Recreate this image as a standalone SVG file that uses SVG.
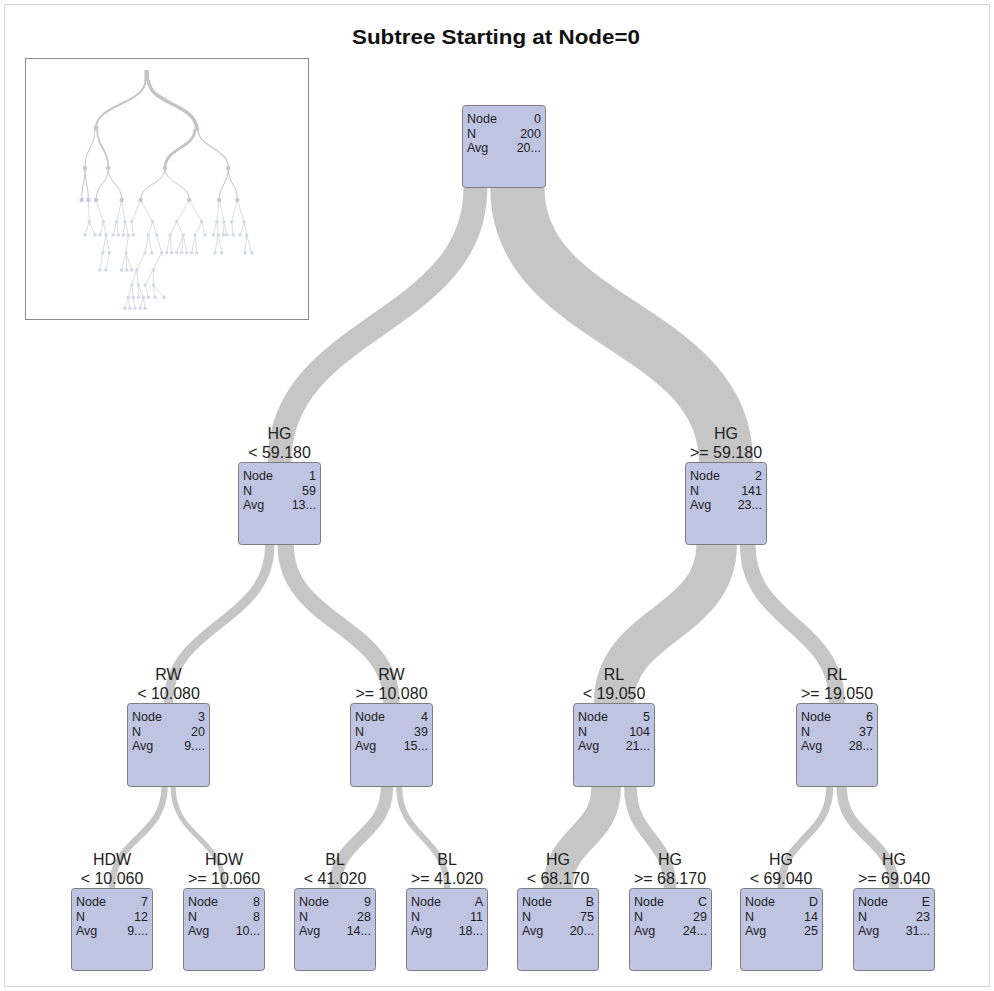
<svg xmlns="http://www.w3.org/2000/svg" width="994" height="991" viewBox="0 0 994 991">
<style>
.bg{fill:#ffffff}
.frame{fill:none;stroke:#d4d4d4;stroke-width:1}
.title{font-family:"Liberation Sans",Arial,sans-serif;font-weight:bold;font-size:20px;fill:#111;text-anchor:middle}
.box{fill:#bec4e2;stroke:#7d7d7d;stroke-width:1}
.t{font-family:"Liberation Sans",Arial,sans-serif;font-size:12.5px;fill:#1e1e1e}
.r{text-anchor:end}
.lbl{font-family:"Liberation Sans",Arial,sans-serif;font-size:16px;fill:#222;text-anchor:middle}
.band{fill:none;stroke:#c6c6c6;stroke-linecap:butt}
.inset{fill:#fff;stroke:#8a8a8a;stroke-width:1}
.mu{fill:none;stroke:#c4c4c4}
.ml{fill:none;stroke:#dcdde3;stroke-width:1}
.md{fill:#c3c8da}
.mf{fill:#d5d9e6}
</style>
<rect class="bg" x="0" y="0" width="994" height="991"/>
<rect class="frame" x="4.5" y="4.5" width="985" height="982"/>
<text class="title" x="496" y="44" textLength="288" lengthAdjust="spacingAndGlyphs">Subtree Starting at Node=0</text>

<g id="inset">
<rect class="inset" x="25.5" y="58.5" width="283" height="261"/>
<rect x="144.5" y="70" width="4.5" height="11" fill="#c4c4c4"/>
<path class="mu" stroke-width="2" d="M145.5,80 C145.5,104 96,104 96,128"/>
<path class="mu" stroke-width="3.5" d="M148.5,80 C148.5,104 196.7,104 196.7,129"/>
<path class="mu" stroke-width="1" d="M95,128 C95,148 85,148 85,168"/>
<path class="mu" stroke-width="1.6" d="M97,128 C97,148 108.3,148 108.3,168"/>
<path class="mu" stroke-width="2.8" d="M195,129 C195,148 165,148 165,168"/>
<path class="mu" stroke-width="1.2" d="M198,129 C198,148 228.3,148 228.3,168"/>
<path class="mu" stroke-width="1" d="M85,168 C85,184 81.7,184 81.7,200 M85,168 C85,184 88.3,184 88.3,200 M108.3,168 C108.3,184 96,184 96,200 M108.3,168 C108.3,184 121.7,184 121.7,200 M165,168 C165,184 140.7,184 140.7,200 M165,168 C165,184 189.3,184 189.3,200 M228.3,168 C228.3,184 219.3,184 219.3,200 M228.3,168 C228.3,184 237.3,184 237.3,200"/>
<path class="ml" d="M88.3,200 L89.3,221.7 M96,200 L103.3,221.7 M121.7,200 L116.7,221.7 M121.7,200 L125,221.7 M140.7,200 L131.7,221.7 M140.7,200 L152.7,221.7 M189.3,200 L176.7,221.7 M189.3,200 L201.7,221.7 M219.3,200 L216.7,221.7 M219.3,200 L224,221.7 M237.3,200 L231.7,221.7 M237.3,200 L244,221.7
M89.3,221.7 L85,235 M89.3,221.7 L95,235 M103.3,221.7 L100,235 M103.3,221.7 L106,235 M116.7,221.7 L113.3,235 M116.7,221.7 L118.3,235 M125,221.7 L123.3,235 M125,221.7 L128.3,235 M131.7,221.7 L133.3,235 M152.7,221.7 L148.3,235 M152.7,221.7 L156.7,235 M176.7,221.7 L170,235 M176.7,221.7 L183.3,235 M201.7,221.7 L195,235 M201.7,221.7 L205,235 M216.7,221.7 L213.3,235 M216.7,221.7 L218.3,235 M224,221.7 L223.3,235 M224,221.7 L226.7,235 M231.7,221.7 L233.3,235 M244,221.7 L240,235 M244,221.7 L246.7,235
M106,235 L102.7,252.7 M106,235 L109.3,252.7 M128.3,235 L126,252.7 M148.3,235 L145,252.7 M148.3,235 L151.7,252.7 M156.7,235 L161.7,252.7 M170,235 L166.7,252.7 M170,235 L171.7,252.7 M183.3,235 L176.7,252.7 M183.3,235 L181.7,252.7 M183.3,235 L186.7,252.7 M195,235 L191.7,252.7 M195,235 L196.7,252.7 M218.3,235 L215,252.7 M218.3,235 L221.7,252.7 M246.7,235 L245,252.7 M246.7,235 L251.7,252.7
M102.7,252.7 L100,270 M109.3,252.7 L106,270 M126,252.7 L121.7,270 M126,252.7 L126.7,270 M126,252.7 L131.7,270 M145,252.7 L136.7,270 M161.7,252.7 L153.3,270
M136.7,270 L131.7,285 M136.7,270 L138.3,285 M153.3,270 L145,285 M153.3,270 L153.3,285
M131.7,285 L128.3,297.3 M131.7,285 L133.3,297.3 M138.3,285 L138.3,297.3 M138.3,285 L143.3,297.3 M145,285 L148.3,297.3 M153.3,285 L155,297.3 M153.3,285 L164,297.3
M128.3,297.3 L125,308.3 M128.3,297.3 L130,308.3 M133.3,297.3 L135,308.3 M143.3,297.3 L140,308.3 M143.3,297.3 L145,308.3"/>
<g class="md">
<circle cx="96" cy="128" r="2.5"/><circle cx="196.7" cy="129" r="2.5"/>
<circle cx="85" cy="168" r="2.3"/><circle cx="108.3" cy="168" r="2.3"/><circle cx="165" cy="168" r="2.3"/><circle cx="228.3" cy="168" r="2.3"/>
<circle cx="81.7" cy="200" r="2.2"/><circle cx="88.3" cy="200" r="2.2"/><circle cx="96" cy="200" r="2.2"/><circle cx="121.7" cy="200" r="2.2"/><circle cx="140.7" cy="200" r="2.2"/><circle cx="189.3" cy="200" r="2.2"/><circle cx="219.3" cy="200" r="2.2"/><circle cx="237.3" cy="200" r="2.2"/>
</g>
<g class="mf">
<circle cx="89.3" cy="221.7" r="1.8"/><circle cx="103.3" cy="221.7" r="1.8"/><circle cx="116.7" cy="221.7" r="1.8"/><circle cx="125" cy="221.7" r="1.8"/><circle cx="131.7" cy="221.7" r="1.8"/><circle cx="152.7" cy="221.7" r="1.8"/><circle cx="176.7" cy="221.7" r="1.8"/><circle cx="201.7" cy="221.7" r="1.8"/><circle cx="216.7" cy="221.7" r="1.8"/><circle cx="224" cy="221.7" r="1.8"/><circle cx="231.7" cy="221.7" r="1.8"/><circle cx="244" cy="221.7" r="1.8"/>
<circle cx="85" cy="235" r="1.8"/><circle cx="95" cy="235" r="1.8"/><circle cx="100" cy="235" r="1.8"/><circle cx="106" cy="235" r="1.8"/><circle cx="113.3" cy="235" r="1.8"/><circle cx="118.3" cy="235" r="1.8"/><circle cx="123.3" cy="235" r="1.8"/><circle cx="128.3" cy="235" r="1.8"/><circle cx="133.3" cy="235" r="1.8"/><circle cx="148.3" cy="235" r="1.8"/><circle cx="156.7" cy="235" r="1.8"/><circle cx="170" cy="235" r="1.8"/><circle cx="183.3" cy="235" r="1.8"/><circle cx="195" cy="235" r="1.8"/><circle cx="205" cy="235" r="1.8"/><circle cx="213.3" cy="235" r="1.8"/><circle cx="218.3" cy="235" r="1.8"/><circle cx="223.3" cy="235" r="1.8"/><circle cx="226.7" cy="235" r="1.8"/><circle cx="233.3" cy="235" r="1.8"/><circle cx="240" cy="235" r="1.8"/><circle cx="246.7" cy="235" r="1.8"/>
<circle cx="102.7" cy="252.7" r="1.8"/><circle cx="109.3" cy="252.7" r="1.8"/><circle cx="126" cy="252.7" r="1.8"/><circle cx="145" cy="252.7" r="1.8"/><circle cx="151.7" cy="252.7" r="1.8"/><circle cx="161.7" cy="252.7" r="1.8"/><circle cx="166.7" cy="252.7" r="1.8"/><circle cx="171.7" cy="252.7" r="1.8"/><circle cx="176.7" cy="252.7" r="1.8"/><circle cx="181.7" cy="252.7" r="1.8"/><circle cx="186.7" cy="252.7" r="1.8"/><circle cx="191.7" cy="252.7" r="1.8"/><circle cx="196.7" cy="252.7" r="1.8"/><circle cx="215" cy="252.7" r="1.8"/><circle cx="221.7" cy="252.7" r="1.8"/><circle cx="245" cy="252.7" r="1.8"/><circle cx="251.7" cy="252.7" r="1.8"/>
<circle cx="100" cy="270" r="1.8"/><circle cx="106" cy="270" r="1.8"/><circle cx="121.7" cy="270" r="1.8"/><circle cx="126.7" cy="270" r="1.8"/><circle cx="131.7" cy="270" r="1.8"/><circle cx="136.7" cy="270" r="1.8"/><circle cx="153.3" cy="270" r="1.8"/>
<circle cx="131.7" cy="285" r="1.8"/><circle cx="138.3" cy="285" r="1.8"/><circle cx="145" cy="285" r="1.8"/><circle cx="153.3" cy="285" r="1.8"/>
<circle cx="128.3" cy="297.3" r="1.8"/><circle cx="133.3" cy="297.3" r="1.8"/><circle cx="138.3" cy="297.3" r="1.8"/><circle cx="143.3" cy="297.3" r="1.8"/><circle cx="148.3" cy="297.3" r="1.8"/><circle cx="155" cy="297.3" r="1.8"/><circle cx="164" cy="297.3" r="1.8"/>
<circle cx="125" cy="308.3" r="1.8"/><circle cx="130" cy="308.3" r="1.8"/><circle cx="135" cy="308.3" r="1.8"/><circle cx="140" cy="308.3" r="1.8"/><circle cx="145" cy="308.3" r="1.8"/>
</g>
</g>

<g id="connectors">
<path class="band" stroke-width="23.8" d="M475.4,188 C475.4,325 279.5,325 279.5,462"/>
<path class="band" stroke-width="54.2" d="M517.4,188 C517.4,325 726,325 726,462"/>
<path class="band" stroke-width="9.4" d="M269.8,545 C269.8,624 168.5,624 168.5,703"/>
<path class="band" stroke-width="16.4" d="M285.7,545 C285.7,624 391.5,624 391.5,703"/>
<path class="band" stroke-width="40.5" d="M716.65,545 C716.65,624 614,624 614,703"/>
<path class="band" stroke-width="15.7" d="M747.75,545 C747.75,624 837,624 837,703"/>
<path class="band" stroke-width="6.4" d="M164.5,787 C164.5,837.5 112,837.5 112,888"/>
<path class="band" stroke-width="5" d="M173.2,787 C173.2,837.5 224,837.5 224,888"/>
<path class="band" stroke-width="12.4" d="M386.95,787 C386.95,837.5 335,837.5 335,888"/>
<path class="band" stroke-width="6.1" d="M399.2,787 C399.2,837.5 447,837.5 447,888"/>
<path class="band" stroke-width="29.75" d="M606.2,787 C606.2,837.5 558,837.5 558,888"/>
<path class="band" stroke-width="12.7" d="M630.4,787 C630.4,837.5 670,837.5 670,888"/>
<path class="band" stroke-width="7.2" d="M829.75,787 C829.75,837.5 781,837.5 781,888"/>
<path class="band" stroke-width="10.5" d="M841.6,787 C841.6,837.5 894,837.5 894,888"/>
</g>

<g id="node0">
<rect class="box" x="462.5" y="105.5" width="83" height="82" rx="3"/>
<text class="t" x="467" y="123">Node</text><text class="t r" x="541" y="123">0</text>
<text class="t" x="467" y="137.5">N</text><text class="t r" x="541" y="137.5">200</text>
<text class="t" x="467" y="152">Avg</text><text class="t r" x="541" y="152">20...</text>
</g>

<g id="node1">
<text class="lbl" x="279.5" y="438.5">HG</text><text class="lbl" x="279.5" y="457.5">&lt; 59.180</text>
<rect class="box" x="238.5" y="462.5" width="82" height="82" rx="3"/>
<text class="t" x="243" y="480">Node</text><text class="t r" x="316" y="480">1</text>
<text class="t" x="243" y="494.5">N</text><text class="t r" x="316" y="494.5">59</text>
<text class="t" x="243" y="509">Avg</text><text class="t r" x="316" y="509">13...</text>
</g>

<g id="node2">
<text class="lbl" x="726" y="438.5">HG</text><text class="lbl" x="726" y="457.5">&gt;= 59.180</text>
<rect class="box" x="685.5" y="462.5" width="81" height="82" rx="3"/>
<text class="t" x="690" y="480">Node</text><text class="t r" x="762" y="480">2</text>
<text class="t" x="690" y="494.5">N</text><text class="t r" x="762" y="494.5">141</text>
<text class="t" x="690" y="509">Avg</text><text class="t r" x="762" y="509">23...</text>
</g>

<g id="node3">
<text class="lbl" x="168.5" y="679.5">RW</text><text class="lbl" x="168.5" y="698.5">&lt; 10.080</text>
<rect class="box" x="127.5" y="703.5" width="82" height="83" rx="3"/>
<text class="t" x="132" y="721">Node</text><text class="t r" x="205" y="721">3</text>
<text class="t" x="132" y="735.5">N</text><text class="t r" x="205" y="735.5">20</text>
<text class="t" x="132" y="750">Avg</text><text class="t r" x="205" y="750">9....</text>
</g>

<g id="node4">
<text class="lbl" x="391.5" y="679.5">RW</text><text class="lbl" x="391.5" y="698.5">&gt;= 10.080</text>
<rect class="box" x="350.5" y="703.5" width="82" height="83" rx="3"/>
<text class="t" x="355" y="721">Node</text><text class="t r" x="428" y="721">4</text>
<text class="t" x="355" y="735.5">N</text><text class="t r" x="428" y="735.5">39</text>
<text class="t" x="355" y="750">Avg</text><text class="t r" x="428" y="750">15...</text>
</g>

<g id="node5">
<text class="lbl" x="614" y="679.5">RL</text><text class="lbl" x="614" y="698.5">&lt; 19.050</text>
<rect class="box" x="573.5" y="703.5" width="81" height="83" rx="3"/>
<text class="t" x="578" y="721">Node</text><text class="t r" x="650" y="721">5</text>
<text class="t" x="578" y="735.5">N</text><text class="t r" x="650" y="735.5">104</text>
<text class="t" x="578" y="750">Avg</text><text class="t r" x="650" y="750">21...</text>
</g>

<g id="node6">
<text class="lbl" x="837" y="679.5">RL</text><text class="lbl" x="837" y="698.5">&gt;= 19.050</text>
<rect class="box" x="796.5" y="703.5" width="81" height="83" rx="3"/>
<text class="t" x="801" y="721">Node</text><text class="t r" x="873" y="721">6</text>
<text class="t" x="801" y="735.5">N</text><text class="t r" x="873" y="735.5">37</text>
<text class="t" x="801" y="750">Avg</text><text class="t r" x="873" y="750">28...</text>
</g>

<g id="node7">
<text class="lbl" x="112" y="864.5">HDW</text><text class="lbl" x="112" y="883.5">&lt; 10.060</text>
<rect class="box" x="71.5" y="888.5" width="81" height="82" rx="3"/>
<text class="t" x="76" y="906">Node</text><text class="t r" x="148" y="906">7</text>
<text class="t" x="76" y="920.5">N</text><text class="t r" x="148" y="920.5">12</text>
<text class="t" x="76" y="935">Avg</text><text class="t r" x="148" y="935">9....</text>
</g>

<g id="node8">
<text class="lbl" x="224" y="864.5">HDW</text><text class="lbl" x="224" y="883.5">&gt;= 10.060</text>
<rect class="box" x="183.5" y="888.5" width="81" height="82" rx="3"/>
<text class="t" x="188" y="906">Node</text><text class="t r" x="260" y="906">8</text>
<text class="t" x="188" y="920.5">N</text><text class="t r" x="260" y="920.5">8</text>
<text class="t" x="188" y="935">Avg</text><text class="t r" x="260" y="935">10...</text>
</g>

<g id="node9">
<text class="lbl" x="335" y="864.5">BL</text><text class="lbl" x="335" y="883.5">&lt; 41.020</text>
<rect class="box" x="294.5" y="888.5" width="81" height="82" rx="3"/>
<text class="t" x="299" y="906">Node</text><text class="t r" x="371" y="906">9</text>
<text class="t" x="299" y="920.5">N</text><text class="t r" x="371" y="920.5">28</text>
<text class="t" x="299" y="935">Avg</text><text class="t r" x="371" y="935">14...</text>
</g>

<g id="nodeA">
<text class="lbl" x="447" y="864.5">BL</text><text class="lbl" x="447" y="883.5">&gt;= 41.020</text>
<rect class="box" x="406.5" y="888.5" width="81" height="82" rx="3"/>
<text class="t" x="411" y="906">Node</text><text class="t r" x="483" y="906">A</text>
<text class="t" x="411" y="920.5">N</text><text class="t r" x="483" y="920.5">11</text>
<text class="t" x="411" y="935">Avg</text><text class="t r" x="483" y="935">18...</text>
</g>

<g id="nodeB">
<text class="lbl" x="558" y="864.5">HG</text><text class="lbl" x="558" y="883.5">&lt; 68.170</text>
<rect class="box" x="517.5" y="888.5" width="81" height="82" rx="3"/>
<text class="t" x="522" y="906">Node</text><text class="t r" x="594" y="906">B</text>
<text class="t" x="522" y="920.5">N</text><text class="t r" x="594" y="920.5">75</text>
<text class="t" x="522" y="935">Avg</text><text class="t r" x="594" y="935">20...</text>
</g>

<g id="nodeC">
<text class="lbl" x="670" y="864.5">HG</text><text class="lbl" x="670" y="883.5">&gt;= 68.170</text>
<rect class="box" x="629.5" y="888.5" width="82" height="82" rx="3"/>
<text class="t" x="634" y="906">Node</text><text class="t r" x="707" y="906">C</text>
<text class="t" x="634" y="920.5">N</text><text class="t r" x="707" y="920.5">29</text>
<text class="t" x="634" y="935">Avg</text><text class="t r" x="707" y="935">24...</text>
</g>

<g id="nodeD">
<text class="lbl" x="781" y="864.5">HG</text><text class="lbl" x="781" y="883.5">&lt; 69.040</text>
<rect class="box" x="740.5" y="888.5" width="82" height="82" rx="3"/>
<text class="t" x="745" y="906">Node</text><text class="t r" x="818" y="906">D</text>
<text class="t" x="745" y="920.5">N</text><text class="t r" x="818" y="920.5">14</text>
<text class="t" x="745" y="935">Avg</text><text class="t r" x="818" y="935">25</text>
</g>

<g id="nodeE">
<text class="lbl" x="894" y="864.5">HG</text><text class="lbl" x="894" y="883.5">&gt;= 69.040</text>
<rect class="box" x="853.5" y="888.5" width="81" height="82" rx="3"/>
<text class="t" x="858" y="906">Node</text><text class="t r" x="930" y="906">E</text>
<text class="t" x="858" y="920.5">N</text><text class="t r" x="930" y="920.5">23</text>
<text class="t" x="858" y="935">Avg</text><text class="t r" x="930" y="935">31...</text>
</g>
</svg>
